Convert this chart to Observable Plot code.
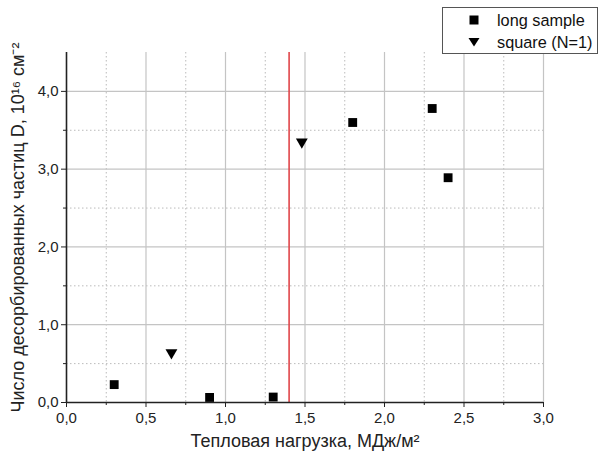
<!DOCTYPE html>
<html><head><meta charset="utf-8">
<script src="https://cdn.jsdelivr.net/npm/d3@7"></script>
<script src="https://cdn.jsdelivr.net/npm/@observablehq/plot@0.6"></script>
<style>
body{margin:0;background:#fff;}
#wrap{position:relative;width:601px;height:463px;font-family:"Liberation Sans",Arial,sans-serif;}
#legend{position:absolute;left:442px;top:7px;width:156px;height:47px;border:1.3px solid #555;background:#fff;box-sizing:border-box;font-size:16.3px;color:#111;}
#legend div{position:absolute;left:25px;display:flex;align-items:center;line-height:20px;white-space:nowrap;}
#legend svg{margin-right:17px;}
</style></head>
<body><div id="wrap"><div id="legend"></div></div>
<script>
const longX = [0.3, 0.9, 1.3, 1.8, 2.3, 2.4];
const longY = [0.23, 0.065, 0.07, 3.6, 3.78, 2.89];
const squareX = [0.66, 1.48];
const squareY = [0.64, 3.35];
const thresholdX = [1.4];
const xMajor = [0, 0.5, 1, 1.5, 2, 2.5, 3];
const xMinor = [0.25, 0.75, 1.25, 1.75, 2.25, 2.75];
const yMajor = [0, 1, 2, 3, 4];
const yMinor = [0.5, 1.5, 2.5, 3.5];
const seriesNames = ["long sample", "square (N=1)"];
const xLabel = "Тепловая нагрузка, МДж/м²";
const yLabel = "Число десорбированных частиц D, 10¹⁶ см⁻²";

const longData = longX.map((x, i) => ({x, y: longY[i]}));
const sqData = squareX.map((x, i) => ({x, y: squareY[i]}));
const fmt = d => d.toFixed(1).replace(".", ",");

const chart = Plot.plot({
  width: 601, height: 463,
  marginLeft: 66, marginRight: 58, marginTop: 52, marginBottom: 61,
  x: {domain: [0, 3]},
  y: {domain: [0, 4.5]},
  style: {fontFamily: "'Liberation Sans', Arial, sans-serif", fontSize: "15px", color: "#222", background: "#fff"},
  marks: [
    Plot.gridX(xMinor, {stroke: "#bbb", strokeOpacity: 1, strokeDasharray: "1.5,2.5"}),
    Plot.gridY(yMinor, {stroke: "#bbb", strokeOpacity: 1, strokeDasharray: "1.5,2.5"}),
    Plot.gridX(xMajor.slice(1), {stroke: "#c4c4c4", strokeOpacity: 1, strokeWidth: 1.2}),
    Plot.gridY(yMajor.slice(1), {stroke: "#c4c4c4", strokeOpacity: 1, strokeWidth: 1.2}),
    Plot.ruleX(thresholdX, {stroke: "#e0464a", strokeWidth: 1.6}),
    Plot.axisX(xMinor, {tickSize: 3, tickFormat: null, text: null, label: null, stroke: "#222"}),
    Plot.axisY(yMinor, {tickSize: 3, tickFormat: null, text: null, label: null, stroke: "#222"}),
    Plot.axisX(xMajor, {tickSize: 5, tickPadding: 5, tickFormat: fmt, stroke: "#222", fill: "#222",
      label: xLabel, labelAnchor: "center", labelArrow: "none", labelOffset: 44}),
    Plot.axisY(yMajor, {tickSize: 5, tickPadding: 3, tickFormat: fmt, stroke: "#222", fill: "#222",
      label: yLabel, labelAnchor: "center", labelArrow: "none", labelOffset: 55}),
    Plot.ruleY([0], {stroke: "#222", strokeWidth: 1.6}),
    Plot.ruleX([0], {stroke: "#222", strokeWidth: 1.6}),
    Plot.dot(longData, {x: "x", y: "y", symbol: "square", r: 5, fill: "#000", stroke: null}),
    Plot.dot(sqData, {x: "x", y: "y", symbol: "triangle", r: 4.4, rotate: 180, fill: "#000", stroke: null})
  ]
});
chart.querySelectorAll("text").forEach(n => {
  if (n.textContent === xLabel) n.style.fontSize = "18px";
  if (n.textContent === yLabel) n.style.fontSize = "18px";
});
const wrap = document.getElementById("wrap");
wrap.insertBefore(chart, wrap.firstChild);

const legend = document.getElementById("legend");
const sq = '<svg width="12" height="12"><rect x="1.5" y="1.5" width="9" height="9" fill="#000"/></svg>';
const tri = '<svg width="12" height="12"><path d="M0.5,2 L11.5,2 L6,10.5 Z" fill="#000"/></svg>';
[sq, tri].forEach((s, i) => {
  const d = document.createElement("div");
  d.style.top = (i === 0 ? 2 : 24) + "px";
  d.innerHTML = s + "<span>" + seriesNames[i] + "</span>";
  legend.appendChild(d);
});
</script>
</body></html>
